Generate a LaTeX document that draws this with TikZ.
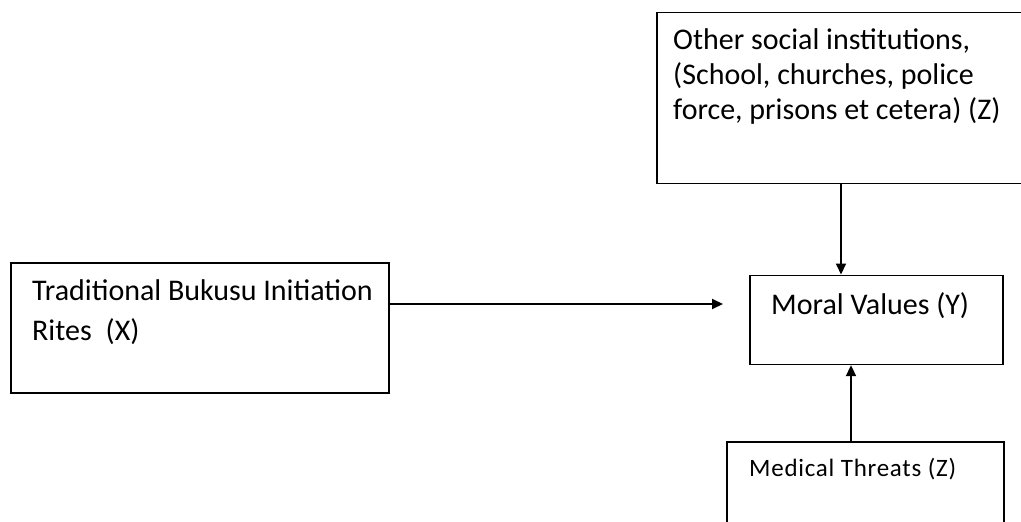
\documentclass[tikz,border=0pt]{standalone}
\usepackage{fontspec}
\setmainfont{Carlito}
\usetikzlibrary{arrows.meta}
\begin{document}
\begin{tikzpicture}[x=1pt,y=-1pt,
  box/.style={draw, line width=1.7pt, inner sep=0pt, anchor=north west},
  lbl/.style={anchor=base west, inner sep=0pt, align=left, font=\fontsize{30}{35}\selectfont},
  conn/.style={line width=2pt, -{Triangle[length=11pt,width=10pt]}}]
\useasboundingbox (0,0) rectangle (1021,522);
% boxes
\node[box, minimum width=380pt, minimum height=171pt] (zbox) at (656,11.5) {};
\node[box, minimum width=378pt, minimum height=130pt] (xbox) at (10,262) {};
\node[box, minimum width=253pt, minimum height=89pt] (mv) at (749,274.5) {};
\node[box, minimum width=277pt, minimum height=100pt] (mt) at (726,441) {};
% texts (base anchor = baseline of last line)
\node[lbl] (ztxt) at (673,119) {Other social institutions,\\(School, churches, police\\force, prisons et cetera) (Z)};
\node[lbl, font=\fontsize{30}{40}\selectfont] (xtxt) at (32,340) {Traditional Bukusu Initiation\\Rites\hspace{14pt}(X)};
\node[lbl] (mvtxt) at (771,314) {Moral Values (Y)};
\node[lbl, font=\fontsize{25}{28}\selectfont\addfontfeature{LetterSpace=3}] (mttxt) at (749,476) {Medical Threats (Z)};
% connectors
\draw[conn] (zbox.south -| 841,0) -- (mv.north -| 841,0);
\draw[conn, shorten >=26pt] (xbox.east |- 0,304) -- (mv.west |- 0,304);
\draw[conn] (mt.north -| 851,0) -- (mv.south -| 851,0);
\end{tikzpicture}
\end{document}
